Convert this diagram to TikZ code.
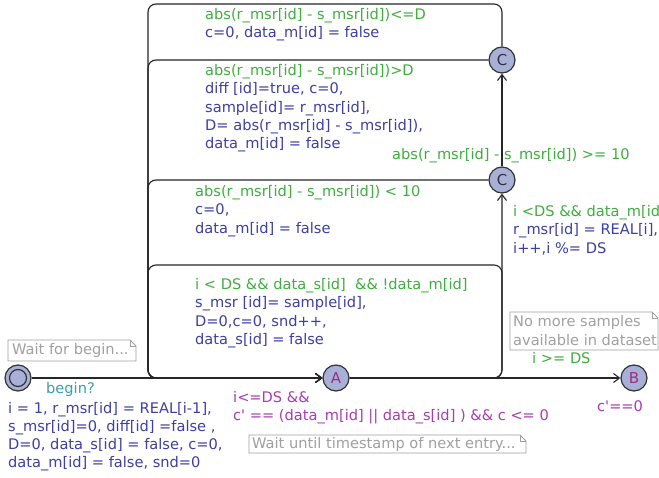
\documentclass[tikz,border=0pt]{standalone}
\usepackage{fontspec}
\newfontfamily\uf{DejaVu Sans}
\usetikzlibrary{arrows.meta}
\definecolor{grn}{HTML}{3FAE3F}
\definecolor{blu}{HTML}{3E3EA6}
\definecolor{tea}{HTML}{3AA0A8}
\definecolor{mag}{HTML}{A83CB0}
\definecolor{nlab}{HTML}{99307F}
\definecolor{nfill}{HTML}{A8B0D8}
\definecolor{cmt}{HTML}{A0A0A0}
\begin{document}
\begin{tikzpicture}[x=1pt,y=-1pt,
  txt/.style={font=\uf\fontsize{14.6}{18.2}\selectfont, inner sep=0pt, anchor=base west, align=left},
  loc/.style={circle, draw=black!80, line width=1.2pt, fill=nfill, minimum size=26pt, inner sep=0pt, font=\uf\fontsize{15}{15}\selectfont},
  edge/.style={draw=black!85, line width=1.1pt, rounded corners=8pt, -{Straight Barb[length=6pt,width=9pt]}},
  cbox/.style={draw=cmt, line width=0.9pt, line join=miter},
]
\clip (0,0) rectangle (659,478);
\fill[white] (0,0) rectangle (659,478);

% locations
\node[loc] (init) at (18,378) {};
\node[loc, text=nlab] (A) at (336,378) {A};
\node[loc, text=nlab] (B) at (634,378) {B};
\node[loc, text=black!80] (C1) at (502,60) {C};
\node[loc, text=black!80] (C2) at (502,180) {C};
\draw[draw=black!80, line width=1.2pt] (init.center) circle[radius=8.5pt];

% corner coordinates
\coordinate (bl) at (148,378);
\coordinate (br) at (502,378);
\coordinate (tl) at (148,4);
\coordinate (tr) at (502,4);
\coordinate (l1) at (148,60);
\coordinate (l2) at (148,180);
\coordinate (sl) at (148,265);
\coordinate (sr) at (502,265);

% edges
\draw[edge] (init) -- (A);
\draw[edge] (A) -- (B);
\draw[edge] (A) -- (br) -- (C2);
\draw[edge] (A) -- (br) -- (sr) -- (sl) -- (bl) -- (A);
\draw[edge] (C2) -- (l2) -- (bl) -- (A);
\draw[edge] (C1) -- (l1) -- (bl) -- (A);
\draw[edge] (C1) -- (tr) -- (tl) -- (bl) -- (A);
\draw[edge] (C2) -- (C1);

% labels (base anchor = baseline of the last line)
\node[txt, text=grn] (g1) at (205,20) {abs(r\_msr[id] - s\_msr[id])<=D};
\node[txt, text=blu] (u1) at (205,38) {c=0, data\_m[id] = false};
\node[txt, text=grn] (g2) at (205,76) {abs(r\_msr[id] - s\_msr[id])>D};
\node[txt, text=blu] (u2) at (205,148.6) {diff [id]=true, c=0,\\sample[id]= r\_msr[id],\\D= abs(r\_msr[id] - s\_msr[id]),\\data\_m[id] = false};
\node[txt, text=grn] (g3) at (392,160) {abs(r\_msr[id] - s\_msr[id]) >= 10};
\node[txt, text=grn] (g4) at (195,197) {abs(r\_msr[id] - s\_msr[id]) < 10};
\node[txt, text=blu] (u4) at (195,233.2) {c=0,\\data\_m[id] = false};
\node[txt, text=grn] (g5) at (195,290) {i < DS \&\& data\_s[id]\ \ \&\& !data\_m[id]};
\node[txt, text=blu] (u5) at (195,344.4) {s\_msr [id]= sample[id],\\D=0,c=0, snd++,\\data\_s[id] = false};
\node[txt, text=grn] (g6) at (513,217) {i <DS \&\& data\_m[id]};
\node[txt, text=blu] (u6) at (513,253.2) {r\_msr[id] = REAL[i],\\i++,i \%= DS};
\node[txt, text=grn] (g7) at (532,364) {i >= DS};
\node[txt, text=tea] (s0) at (46,393) {begin?};
\node[txt, text=blu] (u0) at (8,467.6) {i = 1, r\_msr[id] = REAL[i-1],\\s\_msr[id]=0, diff[id] =false ,\\D=0, data\_s[id] = false, c=0,\\data\_m[id] = false, snd=0};
\node[txt, text=mag] (iA) at (233,420.2) {i<=DS \&\&\\c' == (data\_m[id] || data\_s[id] ) \&\& c <= 0};
\node[txt, text=mag] (iB) at (597,412) {c'==0};

% comments
\draw[cbox] (8,340) -- (130,340) -- (136,346) -- (136,361) -- (8,361) -- cycle;
\draw[cbox] (130,340) -- (130,346) -- (136,346);
\node[txt, text=cmt] (k1) at (12,355) {Wait for begin...};
\draw[cbox] (510,312) -- (652,312) -- (658,318) -- (658,350) -- (510,350) -- cycle;
\draw[cbox] (652,312) -- (652,318) -- (658,318);
\node[txt, text=cmt] (k2) at (513,345.2) {No more samples\\available in dataset};
\draw[cbox] (249,435) -- (520,435) -- (526,441) -- (526,453) -- (249,453) -- cycle;
\draw[cbox] (520,435) -- (520,441) -- (526,441);
\node[txt, text=cmt] (k3) at (252,448) {Wait until timestamp of next entry...};
\end{tikzpicture}
\end{document}
